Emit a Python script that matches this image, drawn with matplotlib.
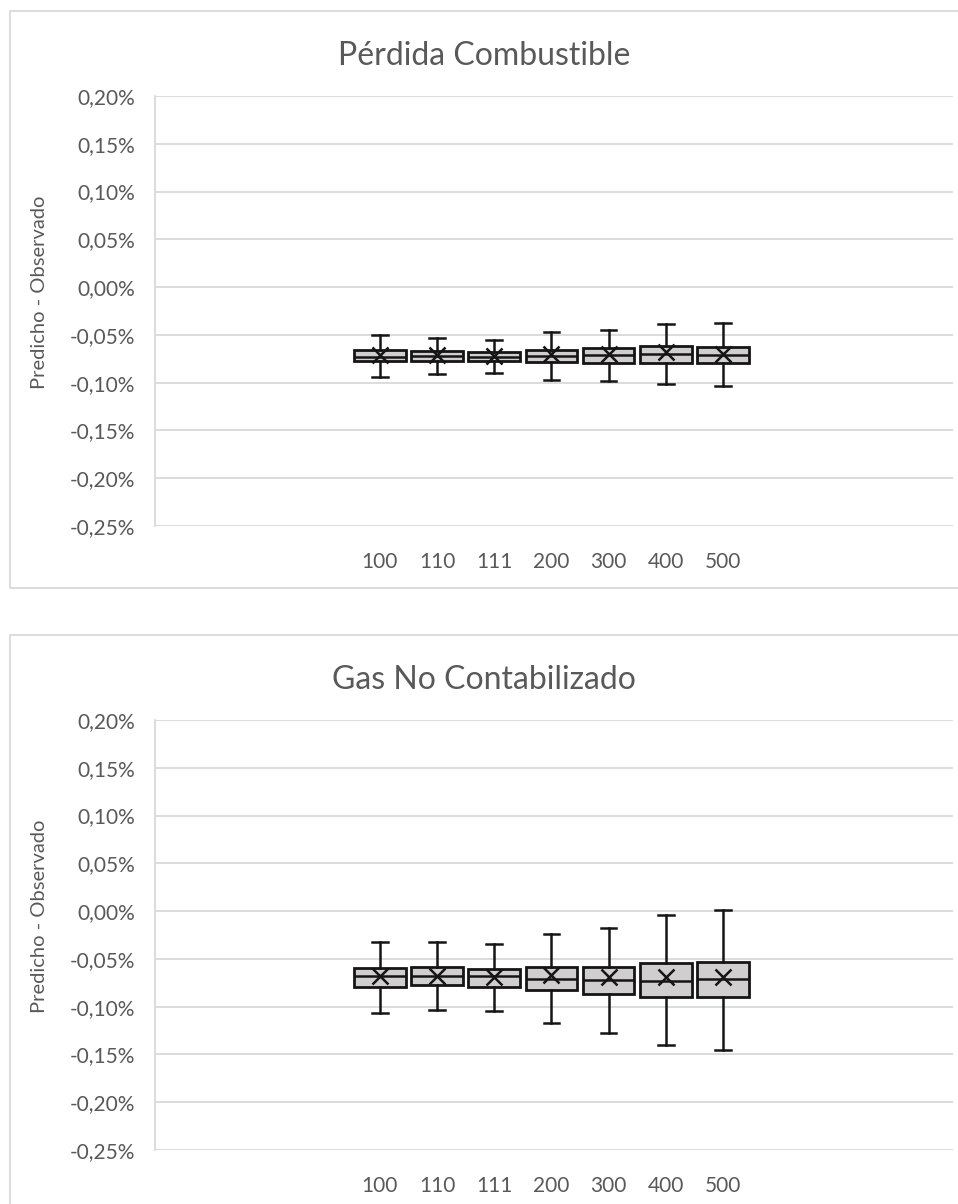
import matplotlib
matplotlib.use("Agg")
import matplotlib.pyplot as plt
from matplotlib.patches import Rectangle
from matplotlib.ticker import FuncFormatter

plt.rcParams["font.family"] = ["Lato", "DejaVu Sans"]

# categories (series names)
labels = ["100", "110", "111", "200", "300", "400", "500"]

# Pérdida Combustible (values in %)
pc_low = [-0.0938, -0.0910, -0.0900, -0.0967, -0.0980, -0.1019, -0.1040]
pc_q1 = [-0.0778, -0.0774, -0.0778, -0.0781, -0.0789, -0.0789, -0.0799]
pc_med = [-0.0729, -0.0726, -0.0732, -0.0719, -0.0715, -0.0705, -0.0711]
pc_q3 = [-0.0659, -0.0669, -0.0680, -0.0653, -0.0642, -0.0614, -0.0625]
pc_high = [-0.0502, -0.0533, -0.0551, -0.0471, -0.0444, -0.0387, -0.0377]
pc_mean = [-0.0708, -0.0710, -0.0720, -0.0700, -0.0700, -0.0684, -0.0698]

# Gas No Contabilizado (values in %)
gnc_low = [-0.1067, -0.1036, -0.1043, -0.1176, -0.1273, -0.1406, -0.1451]
gnc_q1 = [-0.0789, -0.0778, -0.0789, -0.0830, -0.0868, -0.0900, -0.0900]
gnc_med = [-0.0684, -0.0677, -0.0684, -0.0708, -0.0722, -0.0729, -0.0715]
gnc_q3 = [-0.0593, -0.0586, -0.0611, -0.0590, -0.0590, -0.0548, -0.0534]
gnc_high = [-0.0324, -0.0324, -0.0349, -0.0237, -0.0178, -0.0042, 0.0010]
gnc_mean = [-0.0680, -0.0680, -0.0690, -0.0673, -0.0690, -0.0687, -0.0690]

yticks = [0.20, 0.15, 0.10, 0.05, 0.00, -0.05, -0.10, -0.15, -0.20, -0.25]

W, H = 958, 1204
text_col = "#595959"
grid_col = "#d9d9d9"
edge_col = "#151515"

fig = plt.figure(figsize=(W / 100, H / 100), dpi=100)


def px_axes(x0, y0, x1, y1):
    return fig.add_axes([x0 / W, 1 - y1 / H, (x1 - x0) / W, (y1 - y0) / H])


def draw_panel(top, title, low, q1, med, q3, high, mean):
    # chart border
    fig.patches.append(Rectangle((10 / W, 1 - (top + 577) / H), 960 / W, 577 / H,
                                 transform=fig.transFigure, fill=False,
                                 edgecolor=grid_col, lw=1.3))
    ax = px_axes(155, top + 85, 953, top + 515)
    stats = []
    for i in range(len(labels)):
        stats.append({"whislo": low[i], "q1": q1[i], "med": med[i], "q3": q3[i],
                      "whishi": high[i], "mean": mean[i], "fliers": [],
                      "label": labels[i]})
    ax.bxp(stats, positions=range(len(labels)), widths=0.9, patch_artist=True,
           showmeans=True, capwidths=0.27,
           boxprops=dict(facecolor="#d0cece", edgecolor=edge_col, lw=2),
           medianprops=dict(color=edge_col, lw=1.8),
           whiskerprops=dict(color=edge_col, lw=1.8),
           capprops=dict(color=edge_col, lw=1.8),
           meanprops=dict(marker="x", markersize=12, markeredgewidth=1.8,
                          markeredgecolor=edge_col))
    ax.set_xlim(-3.93, 10.02)
    ax.set_ylim(-0.25, 0.20)
    ax.set_yticks(yticks)
    ax.yaxis.set_major_formatter(FuncFormatter(lambda v, p: f"{v:.2f}%".replace(".", ",")))
    ax.grid(axis="y", color=grid_col, lw=1.3)
    ax.set_axisbelow(True)
    for s in ["top", "right", "bottom"]:
        ax.spines[s].set_visible(False)
    ax.spines["left"].set_color(grid_col)
    ax.spines["left"].set_linewidth(1.3)
    ax.tick_params(length=0, labelsize=15, colors=text_col)
    ax.tick_params(axis="y", pad=14)
    ax.tick_params(axis="x", pad=19)
    fig.text(40 / W, 1 - (top + 281) / H, "Predicho - Observado", rotation=90,
             fontsize=14.5, color=text_col, ha="center", va="center")
    fig.text(484 / W, 1 - (top + 45) / H, title, fontsize=23, color=text_col,
             ha="center", va="center")
    return ax


draw_panel(11, "Pérdida Combustible", pc_low, pc_q1, pc_med, pc_q3, pc_high, pc_mean)
draw_panel(635, "Gas No Contabilizado", gnc_low, gnc_q1, gnc_med, gnc_q3, gnc_high, gnc_mean)

fig.savefig("out.png", dpi=100)
